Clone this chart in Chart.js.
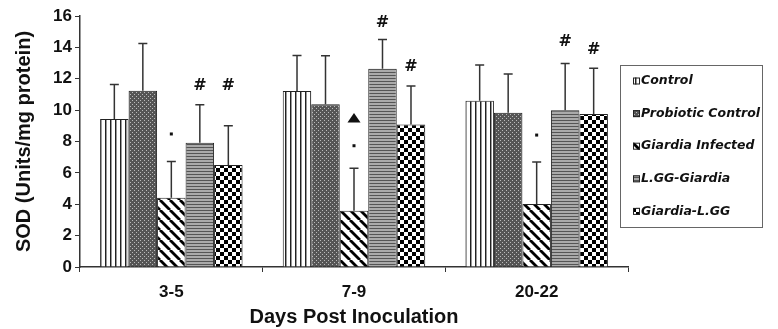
<!DOCTYPE html>
<html>
<head>
<meta charset="utf-8">
<script src="https://cdn.jsdelivr.net/npm/chart.js@4"></script>
<style>
  html, body { margin: 0; padding: 0; background: #fff; }
  #wrap { width: 778px; height: 329px; }
</style>
</head>
<body>
<div id="wrap"><canvas id="sod-chart" width="778" height="329"></canvas></div>
<script>
// values
const categories = ['3-5', '7-9', '20-22'];
const seriesNames = ['Control', 'Probiotic Control', 'Giardia Infected', 'L.GG-Giardia', 'Giardia-L.GG'];

const control = [9.43, 11.22, 10.6];
const probioticControl = [11.24, 10.37, 9.83];
const giardiaInfected = [4.42, 3.59, 4.02];
const lggGiardia = [7.92, 12.64, 10.0];
const giardiaLgg = [6.5, 9.09, 9.75];

const controlErr = [2.2, 2.27, 2.27];
const probioticErr = [3.0, 3.1, 2.47];
const giardiaErr = [2.3, 2.7, 2.67];
const lggGiardiaErr = [2.43, 1.86, 2.98];
const giardiaLggErr = [2.5, 2.45, 2.92];

// significance marks (value where the mark sits)
const giardiaDotY = [8.48, 7.73, 8.41];
const giardiaTriangleY = [null, 9.5, null];
const lggHashY = [11.54, 15.57, 14.36];
const giardiaLggHashY = [11.54, 12.76, 13.83];

const yTicks = [0, 2, 4, 6, 8, 10, 12, 14, 16];

const canvas = document.getElementById('sod-chart');
const ctx = canvas.getContext('2d');

function makePattern(w, h, draw) {
    const c = document.createElement('canvas');
    c.width = w;
    c.height = h;
    const g = c.getContext('2d');
    g.fillStyle = '#fff';
    g.fillRect(0, 0, w, h);
    draw(g);
    return ctx.createPattern(c, 'repeat');
}

const patterns = [
    // vertical lines
    makePattern(5, 5, g => {
        g.fillStyle = '#222';
        g.fillRect(0, 0, 1, 5);
        g.fillStyle = '#999';
        g.fillRect(1, 0, 1, 5);
    }),
    // fine dots on dark grey
    makePattern(4, 4, g => {
        g.fillStyle = '#555';
        g.fillRect(0, 0, 4, 4);
        g.fillStyle = '#bbb';
        g.fillRect(0, 0, 1, 1);
        g.fillRect(2, 2, 1, 1);
    }),
    // thick diagonal lines
    makePattern(10, 10, g => {
        g.strokeStyle = '#000';
        g.lineWidth = 2.8;
        for (let k = -10; k <= 10; k += 10) {
            g.beginPath();
            g.moveTo(k, 0);
            g.lineTo(k + 10, 10);
            g.stroke();
        }
    }),
    // dense horizontal lines
    makePattern(3, 3, g => {
        g.fillStyle = '#aaa';
        g.fillRect(0, 0, 3, 3);
        g.fillStyle = '#555';
        g.fillRect(0, 0, 3, 1);
    }),
    // checkerboard
    makePattern(8, 8, g => {
        g.fillStyle = '#000';
        g.fillRect(0, 0, 4, 4);
        g.fillRect(4, 4, 4, 4);
    }),
];

const seriesValues = [control, probioticControl, giardiaInfected, lggGiardia, giardiaLgg];
const seriesErrors = [controlErr, probioticErr, giardiaErr, lggGiardiaErr, giardiaLggErr];

const datasets = seriesNames.map((name, i) => ({
    label: name,
    data: seriesValues[i],
    errors: seriesErrors[i],
    backgroundColor: patterns[i],
    borderColor: '#222',
    borderWidth: 1,
    categoryPercentage: 0.78,
    barPercentage: 1,
}));

const errorBars = {
    id: 'errorBars',
    afterDatasetsDraw(chart) {
        const c = chart.ctx;
        const y = chart.scales.y;
        c.save();
        c.strokeStyle = '#333';
        c.lineWidth = 1.5;
        chart.data.datasets.forEach((ds, i) => {
            chart.getDatasetMeta(i).data.forEach((bar, j) => {
                const top = y.getPixelForValue(ds.data[j] + ds.errors[j]);
                c.beginPath();
                c.moveTo(bar.x, bar.y);
                c.lineTo(bar.x, top);
                c.moveTo(bar.x - 4.5, top);
                c.lineTo(bar.x + 4.5, top);
                c.stroke();
            });
        });
        c.restore();
    }
};

const marks = {
    id: 'marks',
    afterDatasetsDraw(chart) {
        const c = chart.ctx;
        const y = chart.scales.y;
        c.save();
        c.fillStyle = '#111';
        c.font = 'bold 16px "DejaVu Sans", sans-serif';
        c.textAlign = 'center';
        c.textBaseline = 'middle';
        const hash = (dsIndex, values) => {
            chart.getDatasetMeta(dsIndex).data.forEach((bar, j) => {
                if (values[j] != null) c.fillText('#', bar.x, y.getPixelForValue(values[j]));
            });
        };
        hash(3, lggHashY);
        hash(4, giardiaLggHashY);
        chart.getDatasetMeta(2).data.forEach((bar, j) => {
            if (giardiaDotY[j] != null) {
                const py = y.getPixelForValue(giardiaDotY[j]);
                c.fillRect(bar.x - 1.5, py - 1.5, 3, 3);
            }
            if (giardiaTriangleY[j] != null) {
                const py = y.getPixelForValue(giardiaTriangleY[j]);
                c.beginPath();
                c.moveTo(bar.x, py - 5);
                c.lineTo(bar.x + 6.5, py + 4.5);
                c.lineTo(bar.x - 6.5, py + 4.5);
                c.closePath();
                c.fill();
            }
        });
        c.restore();
    }
};

const boxLegend = {
    id: 'boxLegend',
    afterDraw(chart) {
        const c = chart.ctx;
        c.save();
        c.fillStyle = '#fff';
        c.fillRect(620.5, 65.5, 142, 162);
        c.strokeStyle = '#666';
        c.lineWidth = 1;
        c.strokeRect(620.5, 65.5, 142, 162);
        c.font = 'italic bold 12.5px "DejaVu Sans", sans-serif';
        c.textBaseline = 'middle';
        c.textAlign = 'left';
        chart.data.datasets.forEach((ds, i) => {
            const cy = 81 + i * 32.6;
            c.fillStyle = ds.backgroundColor;
            c.fillRect(633, cy - 3.5, 7, 7);
            c.strokeStyle = '#222';
            c.strokeRect(633.5, cy - 3, 6, 6);
            c.fillStyle = '#111';
            c.fillText(ds.label, 641, cy);
        });
        c.restore();
    }
};

const axisFont = { family: '"Liberation Sans", Arial, sans-serif', weight: 'bold', size: 17 };

new Chart(canvas, {
    type: 'bar',
    data: { labels: categories, datasets: datasets },
    options: {
        responsive: false,
        animation: false,
        layout: { padding: { top: 16, right: 150, left: 0, bottom: 0 } },
        plugins: {
            legend: { display: false },
            tooltip: { enabled: false },
        },
        scales: {
            x: {
                grid: { display: true, drawOnChartArea: false, drawTicks: true, tickLength: 5, color: '#333', offset: true },
                border: { display: true, color: '#333', width: 1.5 },
                ticks: { color: '#111', font: axisFont, padding: 10 },
                title: {
                    display: true,
                    text: 'Days Post Inoculation',
                    color: '#111',
                    font: { family: axisFont.family, weight: 'bold', size: 20 },
                    padding: { top: 0, bottom: 0 },
                },
                afterFit(scale) { scale.height = 62; },
            },
            y: {
                min: 0,
                max: 16,
                afterBuildTicks(scale) { scale.ticks = yTicks.map(v => ({ value: v })); },
                grid: { display: true, drawOnChartArea: false, drawTicks: true, tickLength: 5, color: '#333' },
                border: { display: true, color: '#333', width: 1.5 },
                ticks: { color: '#111', font: axisFont, padding: 3 },
                title: {
                    display: true,
                    text: 'SOD (Units/mg protein)',
                    color: '#111',
                    font: { family: axisFont.family, weight: 'bold', size: 20 },
                    padding: { top: 12, bottom: 0 },
                },
                afterFit(scale) { scale.width = 80; },
            },
        },
    },
    plugins: [errorBars, marks, boxLegend],
});
</script>
</body>
</html>
